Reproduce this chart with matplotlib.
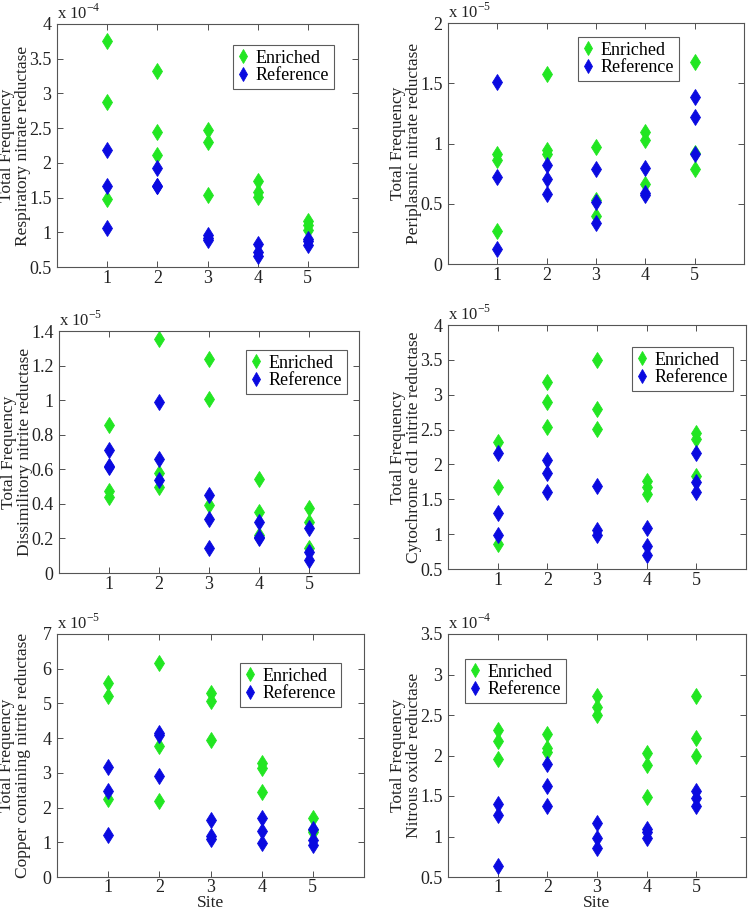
import numpy as np
import matplotlib
matplotlib.use("Agg")
from matplotlib import pyplot as plt

plt.rcParams['font.family'] = ['Liberation Serif', 'DejaVu Serif']
plt.rcParams['mathtext.fontset'] = 'custom'
plt.rcParams['mathtext.rm'] = 'Liberation Serif'

sites = [1, 2, 3, 4, 5]

# values per site, 3 replicates, in units of the axis multiplier
resp_enr = [[3.76, 2.88, 1.48], [3.32, 2.44, 2.12], [2.48, 2.30, 1.54], [1.74, 1.58, 1.51], [1.16, 1.10, 1.04]]
resp_ref = [[2.18, 1.67, 1.06], [1.92, 1.66, 1.67], [0.96, 0.92, 0.885], [0.83, 0.71, 0.66], [0.91, 0.87, 0.82]]

peri_enr = [[0.91, 0.867, 0.273], [1.58, 0.945, 0.91], [0.972, 0.53, 0.398], [1.097, 1.028, 0.66], [1.68, 0.923, 0.79]]
peri_ref = [[1.51, 0.718, 0.124], [0.823, 0.704, 0.58], [0.79, 0.514, 0.337], [0.80, 0.59, 0.572], [1.39, 1.22, 0.91]]

diss_enr = [[0.858, 0.477, 0.442], [1.352, 0.577, 0.50], [1.238, 1.008, 0.396], [0.542, 0.354, 0.219], [0.377, 0.296, 0.144]]
diss_ref = [[0.712, 0.615, 0.62], [0.987, 0.662, 0.538], [0.454, 0.313, 0.142], [0.296, 0.204, 0.21], [0.26, 0.12, 0.077]]

cyto_enr = [[2.32, 1.67, 0.855], [3.18, 2.89, 2.53], [3.50, 2.80, 2.51], [1.756, 1.67, 1.58], [2.446, 2.36, 1.83]]
cyto_ref = [[2.17, 1.305, 0.984], [2.06, 1.88, 1.61], [1.69, 1.066, 0.994], [1.095, 0.826, 0.706], [2.17, 1.75, 1.61]]

copp_enr = [[5.60, 5.20, 2.26], [6.17, 3.78, 2.20], [5.29, 5.06, 3.95], [3.28, 3.13, 2.45], [1.69, 1.36, 1.30]]
copp_ref = [[3.18, 2.48, 1.21], [4.16, 4.10, 2.90], [1.63, 1.17, 1.09], [1.71, 1.33, 0.98], [1.38, 1.07, 0.92]]

nitr_enr = [[2.31, 2.18, 1.96], [2.26, 2.09, 2.04], [2.74, 2.60, 2.50], [2.03, 1.88, 1.49], [2.74, 2.22, 2.00]]
nitr_ref = [[1.40, 1.27, 0.64], [1.89, 1.62, 1.38], [1.17, 0.985, 0.86], [1.09, 0.985, 1.06], [1.56, 1.48, 1.38]]

panels = [
    ("Respiratory nitrate reductase", resp_enr, resp_ref, -4, (0.5, 4), np.arange(0.5, 4.01, 0.5), ['0.5', '1', '1.5', '2', '2.5', '3', '3.5', '4']),
    ("Periplasmic nitrate reductase", peri_enr, peri_ref, -5, (0, 2), np.arange(0, 2.01, 0.5), ['0', '0.5', '1', '1.5', '2']),
    ("Dissimilitory nitrite reductase", diss_enr, diss_ref, -5, (0, 1.4), np.arange(0, 1.41, 0.2), ['0', '0.2', '0.4', '0.6', '0.8', '1', '1.2', '1.4']),
    ("Cytochrome cd1 nitrite reductase", cyto_enr, cyto_ref, -5, (0.5, 4), np.arange(0.5, 4.01, 0.5), ['0.5', '1', '1.5', '2', '2.5', '3', '3.5', '4']),
    ("Copper containing nitrite reductase", copp_enr, copp_ref, -5, (0, 7), np.arange(0, 7.01, 1), ['0', '1', '2', '3', '4', '5', '6', '7']),
    ("Nitrous oxide reductase", nitr_enr, nitr_ref, -4, (0.5, 3.5), np.arange(0.5, 3.51, 0.5), ['0.5', '1', '1.5', '2', '2.5', '3', '3.5']),
]

# axes boxes in pixels: left, top, right, bottom
boxes = [(57, 24, 358, 267), (448, 23, 744, 264),
         (59, 331, 359, 573), (448, 325, 746, 569),
         (57, 634, 364, 877), (448, 634, 746, 877)]
# legend upper-left corners in pixels
leg_pos = [(233, 45), (578, 37), (246, 350), (632, 347), (240, 663), (465, 659)]

W, H = 750, 910
fig = plt.figure(figsize=(7.5, 9.1), dpi=100)
green = '#22e622'
blue = '#0a0ae0'

for i, (name, enr, ref, expo, ylim, yt, ytl) in enumerate(panels):
    l, t, r, b = boxes[i]
    aw, ah = r - l, b - t
    ax = fig.add_axes([l / W, 1 - b / H, aw / W, ah / H])
    for s, vals in zip(sites, enr):
        h1, = ax.plot([s] * len(vals), vals, 'd', color=green, markersize=8, markeredgewidth=0.6, linestyle='none')
    for s, vals in zip(sites, ref):
        h2, = ax.plot([s] * len(vals), vals, 'd', color=blue, markersize=8, markeredgewidth=0.6, linestyle='none')
    ax.set_xlim(0, 6)
    ax.set_ylim(*ylim)
    ax.set_xticks(sites)
    ax.set_yticks(yt)
    ax.set_yticklabels(ytl)
    ax.tick_params(direction='in', top=True, right=True, labelsize=13, length=4, width=0.6,
                   colors='#333333', labelcolor='#222222', pad=4)
    if i >= 4:
        ax.tick_params(axis='x', pad=1.5)
    else:
        ax.tick_params(axis='x', pad=2.5)
    for sp in ax.spines.values():
        sp.set_color('#555555')
        sp.set_linewidth(0.8)
    ax.set_ylabel("Total Frequency\n" + name, fontsize=12.5, color='#222222', linespacing=1.0)
    ax.yaxis.set_label_coords(-42 / aw, 0.5)
    ax.yaxis.label.set_verticalalignment('center')
    ax.text(0.0, 1.005, r'x 10$^{%d}$' % expo, transform=ax.transAxes, fontsize=12, ha='left', va='bottom', color='#222222')
    if i >= 4:
        ax.text(0.5, -(907 - b) / ah, "Site", transform=ax.transAxes, fontsize=12.5,
                ha='center', va='baseline', color='#222222')
    lx, ly = leg_pos[i]
    leg = ax.legend([h1, h2], ['Enriched', 'Reference'], loc='upper left',
                    bbox_to_anchor=(lx / W, 1 - ly / H), bbox_transform=fig.transFigure,
                    fontsize=13, frameon=True, fancybox=False, borderpad=0.25,
                    handlelength=0.6, handletextpad=0.4, labelspacing=0.05, borderaxespad=0,
                    markerscale=0.85)
    leg.get_frame().set_edgecolor('#333333')
    leg.get_frame().set_linewidth(0.8)

fig.savefig('out.png', dpi=100)
